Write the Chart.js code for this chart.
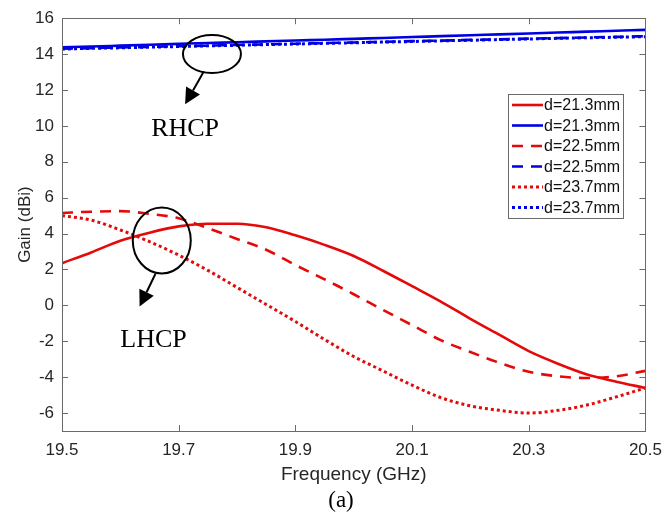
<!DOCTYPE html>
<html>
<head>
<meta charset="utf-8">
<script src="https://cdn.jsdelivr.net/npm/chart.js@4.4.1/dist/chart.umd.min.js"></script>
<style>
  html, body { margin: 0; padding: 0; background: #fff; }
</style>
</head>
<body>
<canvas id="gain" width="671" height="520"></canvas>
<script>
// frequency samples (GHz)
const freq = [19.5, 19.55, 19.6, 19.65, 19.7, 19.75, 19.8, 19.85, 19.9, 19.95, 20.0,
              20.05, 20.1, 20.15, 20.2, 20.25, 20.3, 20.35, 20.4, 20.45, 20.5];

// RHCP gain (dBi)
const rhcp213 = [14.38, 14.42, 14.47, 14.52, 14.57, 14.62, 14.66, 14.71, 14.76, 14.80, 14.85,
                 14.90, 14.95, 15.00, 15.05, 15.10, 15.15, 15.20, 15.25, 15.30, 15.35];
const rhcp225 = [14.30, 14.33, 14.37, 14.40, 14.44, 14.47, 14.51, 14.54, 14.58, 14.61, 14.65,
                 14.68, 14.72, 14.75, 14.79, 14.82, 14.86, 14.89, 14.93, 14.96, 15.00];
const rhcp237 = [14.28, 14.32, 14.35, 14.39, 14.42, 14.46, 14.49, 14.53, 14.56, 14.60, 14.63,
                 14.67, 14.70, 14.74, 14.77, 14.81, 14.84, 14.88, 14.91, 14.94, 14.97];

// LHCP gain (dBi)
const lhcp213 = [2.35, 2.95, 3.6, 4.05, 4.4, 4.55, 4.55, 4.35, 3.9, 3.37, 2.75,
                 1.93, 1.07, 0.2, -0.75, -1.65, -2.55, -3.25, -3.85, -4.25, -4.6];
const lhcp225 = [5.15, 5.22, 5.25, 5.1, 4.85, 4.3, 3.7, 3.1, 2.25, 1.45, 0.62,
                 -0.25, -1.1, -1.95, -2.6, -3.2, -3.7, -3.95, -4.05, -3.95, -3.65];
const lhcp237 = [5.0, 4.75, 4.2, 3.55, 2.8, 1.95, 1.0, 0.05, -0.9, -1.9, -2.85,
                 -3.65, -4.45, -5.15, -5.6, -5.85, -6.0, -5.85, -5.55, -5.1, -4.6];

const xTicks = [19.5, 19.7, 19.9, 20.1, 20.3, 20.5];
const yTicks = [-6, -4, -2, 0, 2, 4, 6, 8, 10, 12, 14, 16];

const RED = 'rgb(228,10,10)';
const BLUE = 'rgb(0,0,228)';
const SANS = '"Liberation Sans", Arial, sans-serif';
const SERIF = '"Liberation Serif", "Times New Roman", serif';
const AXIS = '#6a6a6a';

const pts = arr => freq.map((f, i) => ({ x: f, y: arr[i] }));

const line = (label, arr, color, dash) => ({
  label: label,
  data: pts(arr),
  borderColor: color,
  backgroundColor: color,
  borderWidth: dash.length && dash[0] < 5 ? 3 : 2.6,
  borderDash: dash,
  pointRadius: 0,
  cubicInterpolationMode: 'monotone',
  fill: false
});

// box, inward ticks, legend, annotations
const decor = {
  id: 'decor',
  afterDatasetsDraw(chart) {
    const { ctx, chartArea: a, scales: { x, y } } = chart;
    ctx.save();

    // axes box + MATLAB style inward ticks
    ctx.strokeStyle = AXIS;
    ctx.lineWidth = 1;
    ctx.strokeRect(Math.round(a.left) + 0.5, Math.round(a.top) + 0.5,
                   Math.round(a.width), Math.round(a.height));
    ctx.beginPath();
    xTicks.forEach(v => {
      const px = Math.round(x.getPixelForValue(v)) + 0.5;
      ctx.moveTo(px, a.bottom); ctx.lineTo(px, a.bottom - 6);
      ctx.moveTo(px, a.top); ctx.lineTo(px, a.top + 6);
    });
    yTicks.forEach(v => {
      const py = Math.round(y.getPixelForValue(v)) + 0.5;
      ctx.moveTo(a.left, py); ctx.lineTo(a.left + 6, py);
      ctx.moveTo(a.right, py); ctx.lineTo(a.right - 6, py);
    });
    ctx.stroke();

    // legend
    const lx = 508, ly = 94, lw = 115, lh = 124, row = 20.5;
    ctx.fillStyle = '#fff';
    ctx.fillRect(lx, ly, lw, lh);
    ctx.strokeStyle = AXIS;
    ctx.strokeRect(lx + 0.5, ly + 0.5, lw, lh);
    ctx.font = '16px ' + SANS;
    ctx.textBaseline = 'middle';
    chart.data.datasets.forEach((ds, i) => {
      const cy = ly + 11 + i * row;
      ctx.strokeStyle = ds.borderColor;
      ctx.lineWidth = ds.borderWidth;
      ctx.setLineDash(ds.borderDash);
      ctx.beginPath();
      ctx.moveTo(lx + 4, cy); ctx.lineTo(lx + 35, cy);
      ctx.stroke();
      ctx.setLineDash([]);
      ctx.fillStyle = '#111';
      ctx.fillText(ds.label, lx + 36, cy + 1);
    });

    // annotations
    ctx.strokeStyle = '#000';
    ctx.fillStyle = '#000';
    ctx.lineWidth = 2;
    const arrow = (x1, y1, x2, y2) => {
      const ang = Math.atan2(y2 - y1, x2 - x1);
      const hl = 16, hw = 8;
      const bx = x2 - hl * Math.cos(ang), by = y2 - hl * Math.sin(ang);
      ctx.beginPath();
      ctx.moveTo(x1, y1); ctx.lineTo(bx, by);
      ctx.stroke();
      ctx.beginPath();
      ctx.moveTo(x2, y2);
      ctx.lineTo(bx + hw * Math.sin(ang), by - hw * Math.cos(ang));
      ctx.lineTo(bx - hw * Math.sin(ang), by + hw * Math.cos(ang));
      ctx.closePath();
      ctx.fill();
    };
    const X = v => x.getPixelForValue(v), Y = v => y.getPixelForValue(v);

    ctx.beginPath();
    ctx.ellipse(X(19.757), Y(14.0), 29, 19, 0, 0, Math.PI * 2);
    ctx.stroke();
    arrow(X(19.743), Y(13.03), X(19.711), Y(11.2));

    ctx.beginPath();
    ctx.ellipse(X(19.671), Y(3.62), 29, 33, 0, 0, Math.PI * 2);
    ctx.stroke();
    arrow(X(19.66), Y(1.75), X(19.633), Y(-0.07));

    ctx.font = '26px ' + SERIF;
    ctx.textAlign = 'center';
    ctx.textBaseline = 'alphabetic';
    ctx.fillText('RHCP', X(19.711), Y(9.45));
    ctx.fillText('LHCP', X(19.657), Y(-2.33));

    ctx.font = '23px ' + SERIF;
    ctx.fillText('(a)', 341, 507);
    ctx.restore();
  }
};

new Chart(document.getElementById('gain'), {
  type: 'line',
  data: {
    datasets: [
      line('d=21.3mm', lhcp213, RED, []),
      line('d=21.3mm', rhcp213, BLUE, []),
      line('d=22.5mm', lhcp225, RED, [11, 8]),
      line('d=22.5mm', rhcp225, BLUE, [11, 8]),
      line('d=23.7mm', lhcp237, RED, [3, 3]),
      line('d=23.7mm', rhcp237, BLUE, [3, 3])
    ]
  },
  options: {
    responsive: false,
    animation: false,
    layout: { padding: { top: 13, right: 17, bottom: 34, left: 0 } },
    plugins: {
      legend: { display: false },
      tooltip: { enabled: false }
    },
    scales: {
      x: {
        type: 'linear',
        min: 19.5,
        max: 20.5,
        afterBuildTicks: s => { s.ticks = xTicks.map(v => ({ value: v })); },
        afterFit: s => { s.height = 55; },
        grid: { display: false, drawTicks: false },
        border: { display: false },
        ticks: {
          padding: 9,
          color: '#262626',
          font: { family: SANS, size: 17 },
          maxRotation: 0,
          callback: v => v.toFixed(1)
        },
        title: {
          display: true,
          text: 'Frequency (GHz)',
          color: '#262626',
          font: { family: SANS, size: 19 },
          padding: { top: 0, bottom: 0 }
        }
      },
      y: {
        min: -7,
        max: 16,
        afterBuildTicks: s => { s.ticks = yTicks.map(v => ({ value: v })); },
        afterFit: s => { s.width = 62; },
        grid: { display: false, drawTicks: false },
        border: { display: false },
        ticks: {
          padding: 8,
          color: '#262626',
          font: { family: SANS, size: 17 }
        },
        title: {
          display: true,
          text: 'Gain (dBi)',
          color: '#262626',
          font: { family: SANS, size: 17 },
          padding: { top: 15, bottom: 0 }
        }
      }
    }
  },
  plugins: [decor]
});
</script>
</body>
</html>
